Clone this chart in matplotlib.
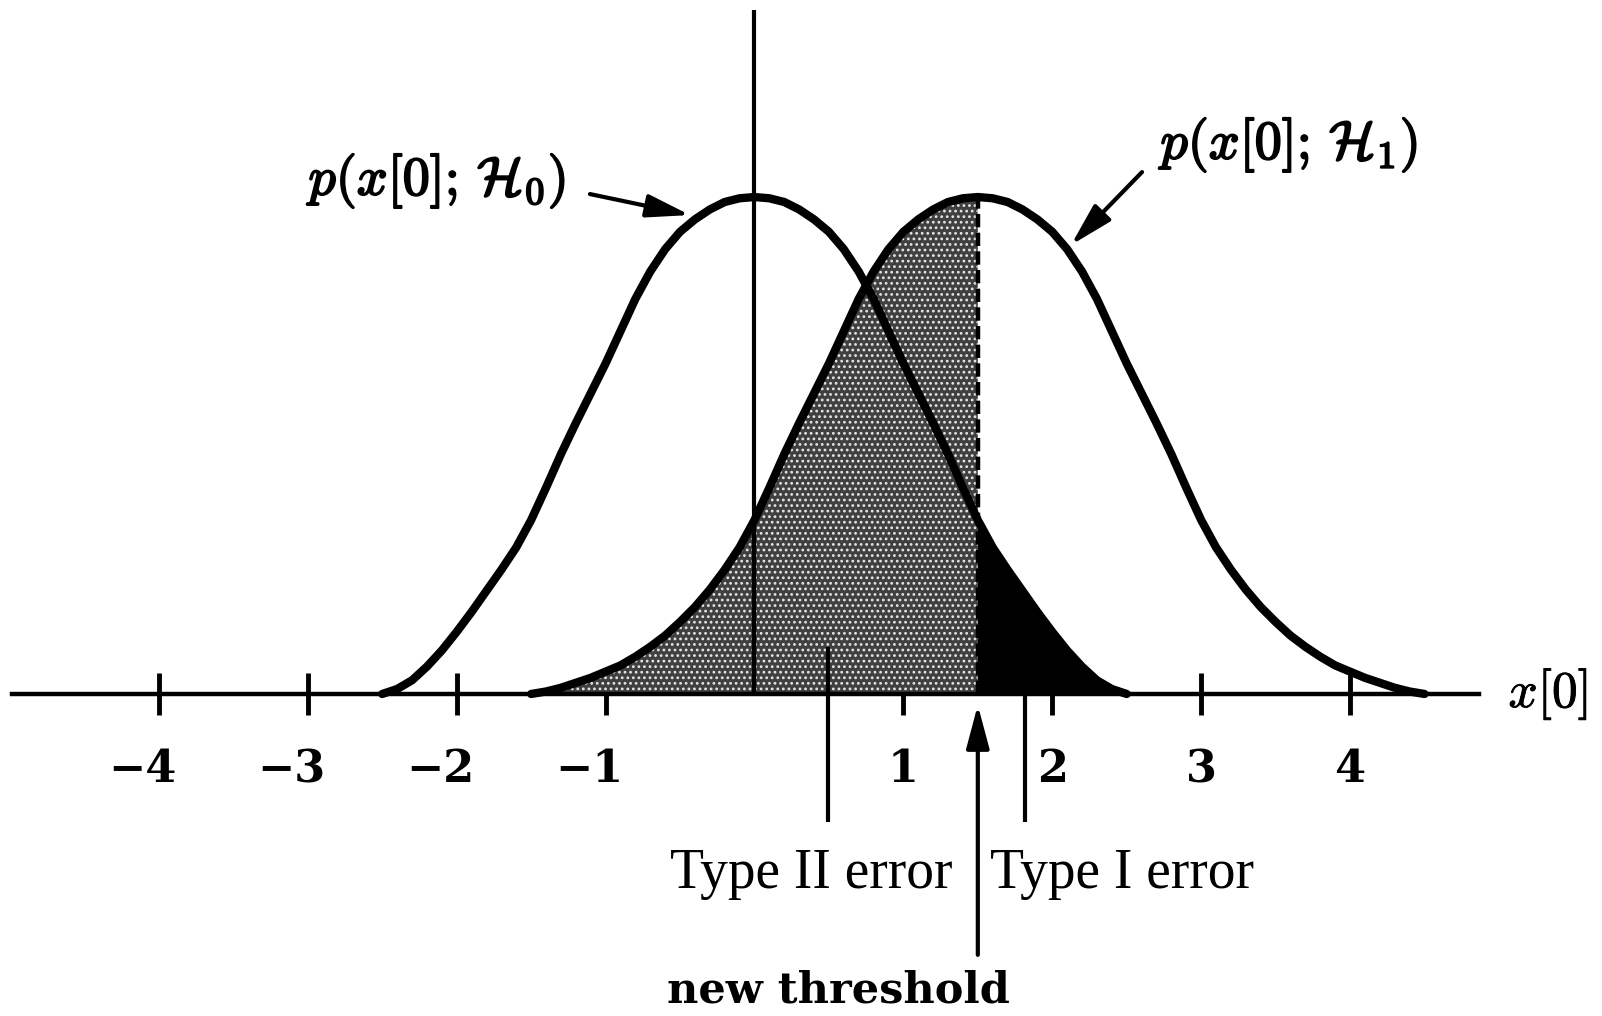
import numpy as np
import matplotlib
matplotlib.use('Agg')
import matplotlib.pyplot as plt
import matplotlib.patheffects as pe

# density of x[0] under each hypothesis, every 0.1
h0_x = np.linspace(-2.5, 2.5, 51)
h0_y = [0.000, 0.004, 0.011, 0.022, 0.035, 0.050, 0.066, 0.083, 0.100, 0.118,
        0.140, 0.166, 0.193, 0.218, 0.242, 0.266, 0.292, 0.318, 0.340, 0.358,
        0.372, 0.382, 0.390, 0.396, 0.399, 0.400, 0.399, 0.396, 0.390, 0.382,
        0.372, 0.358, 0.340, 0.318, 0.292, 0.266, 0.242, 0.218, 0.193, 0.166,
        0.140, 0.118, 0.100, 0.083, 0.066, 0.050, 0.035, 0.022, 0.011, 0.004,
        0.000]
h1_x = np.linspace(-1.5, 4.5, 61)
h1_y = [0.000, 0.002, 0.005, 0.009, 0.013, 0.018, 0.023, 0.030, 0.038, 0.047,
        0.058, 0.070, 0.084, 0.100, 0.118, 0.140, 0.166, 0.193, 0.218, 0.242,
        0.266, 0.292, 0.318, 0.340, 0.358, 0.372, 0.382, 0.390, 0.396, 0.399,
        0.400, 0.399, 0.396, 0.390, 0.382, 0.372, 0.358, 0.340, 0.318, 0.292,
        0.266, 0.242, 0.218, 0.193, 0.166, 0.140, 0.118, 0.100, 0.084, 0.070,
        0.058, 0.047, 0.038, 0.030, 0.023, 0.018, 0.013, 0.009, 0.005, 0.002,
        0.000]
h0_y = np.array(h0_y)
h1_y = np.array(h1_y)

threshold = 1.5
old_threshold = 0.0
tick_vals = [-4, -3, -2, -1, 1, 2, 3, 4]
tick_text = ['\u22124', '\u22123', '\u22122', '\u22121', '1', '2', '3', '4']

plt.rcParams['mathtext.fontset'] = 'cm'
plt.rcParams['hatch.linewidth'] = 1.2

fig = plt.figure(figsize=(16.02, 10.16), dpi=100)
ax = fig.add_axes([0, 0, 1, 1])
ax.set_xlim(-5.067, 5.692)
ax.set_ylim(-0.2592, 0.5586)
ax.axis('off')

# ticks on the x axis
ax.vlines(tick_vals, -0.017, 0.017, color='k', lw=3.5, zorder=0.5)
for v, t in zip(tick_vals, tick_text):
    shift = -0.11 if v < 0 else 0.0
    ax.text(v + shift, -0.061, t, ha='center', va='center', fontsize=32,
            fontweight='bold', family='DejaVu Serif')

# type II region (under H1, left of threshold) and type I region (under H0, right of it)
left = h1_x <= threshold + 1e-9
ax.fill_between(h1_x[left], 0, h1_y[left], facecolor='#404040', edgecolor='#e6e6e6',
                hatch='...', linewidth=0, zorder=1)
right = h0_x >= threshold - 1e-9
ax.fill_between(h0_x[right], 0, h0_y[right], facecolor='k', linewidth=0, zorder=1.5)
top = h1_y[np.isclose(h1_x, threshold)][0]
ax.vlines(threshold, 0, top, color='k', lw=3.2, linestyles=(0, (3, 1.2)), zorder=2)

# old threshold
ax.vlines(old_threshold, 0, 0.5505, color='k', lw=3, zorder=2)

ax.plot(h0_x, h0_y, color='k', lw=6, solid_joinstyle='round', solid_capstyle='round', zorder=3)
ax.plot(h1_x, h1_y, color='k', lw=6, solid_joinstyle='round', solid_capstyle='round', zorder=3)

# x axis
ax.plot([-4.987, 4.866], [0, 0], color='k', lw=3.2, zorder=3)
ax.text(5.33, 0, r'$x[0]$', ha='center', va='center', fontsize=37,
        path_effects=[pe.withStroke(linewidth=0.6, foreground='k')])

bold = [pe.withStroke(linewidth=1.4, foreground='k')]
ax.text(-2.126, 0.4129, r'$p(x[0];\,\mathcal{H}_0)$', ha='center', va='center',
        fontsize=39, path_effects=bold)
ax.text(3.596, 0.4419, r'$p(x[0];\,\mathcal{H}_1)$', ha='center', va='center',
        fontsize=39, path_effects=bold)

arrow = dict(arrowstyle='-|>,head_length=1.2,head_width=0.32', lw=3, color='k',
             shrinkA=0, shrinkB=0, mutation_scale=22)
ax.annotate('', xy=(-0.433, 0.3855), xytext=(-1.105, 0.4024), arrowprops=arrow, zorder=4)
ax.annotate('', xy=(2.126, 0.3614), xytext=(2.603, 0.4201), arrowprops=arrow, zorder=4)
ax.annotate('', xy=(threshold, -0.0089), xytext=(threshold, -0.21), arrowprops=arrow, zorder=4)

# pointers to the error regions
ax.vlines(0.494, -0.103, 0.0378, color='k', lw=3, zorder=2.5)
ax.vlines(1.817, -0.103, 0.03, color='k', lw=3, zorder=2.5)

ax.text(0.379, -0.1449, 'Type II error', ha='center', va='center', fontsize=40,
        family='Liberation Serif')
ax.text(2.468, -0.1449, 'Type I error', ha='center', va='center', fontsize=40,
        family='Liberation Serif')
ax.text(0.561, -0.239, 'new threshold', ha='center', va='center', fontsize=31,
        fontweight='bold', family='DejaVu Serif')

fig.savefig('out.png', dpi=100, facecolor='white')
